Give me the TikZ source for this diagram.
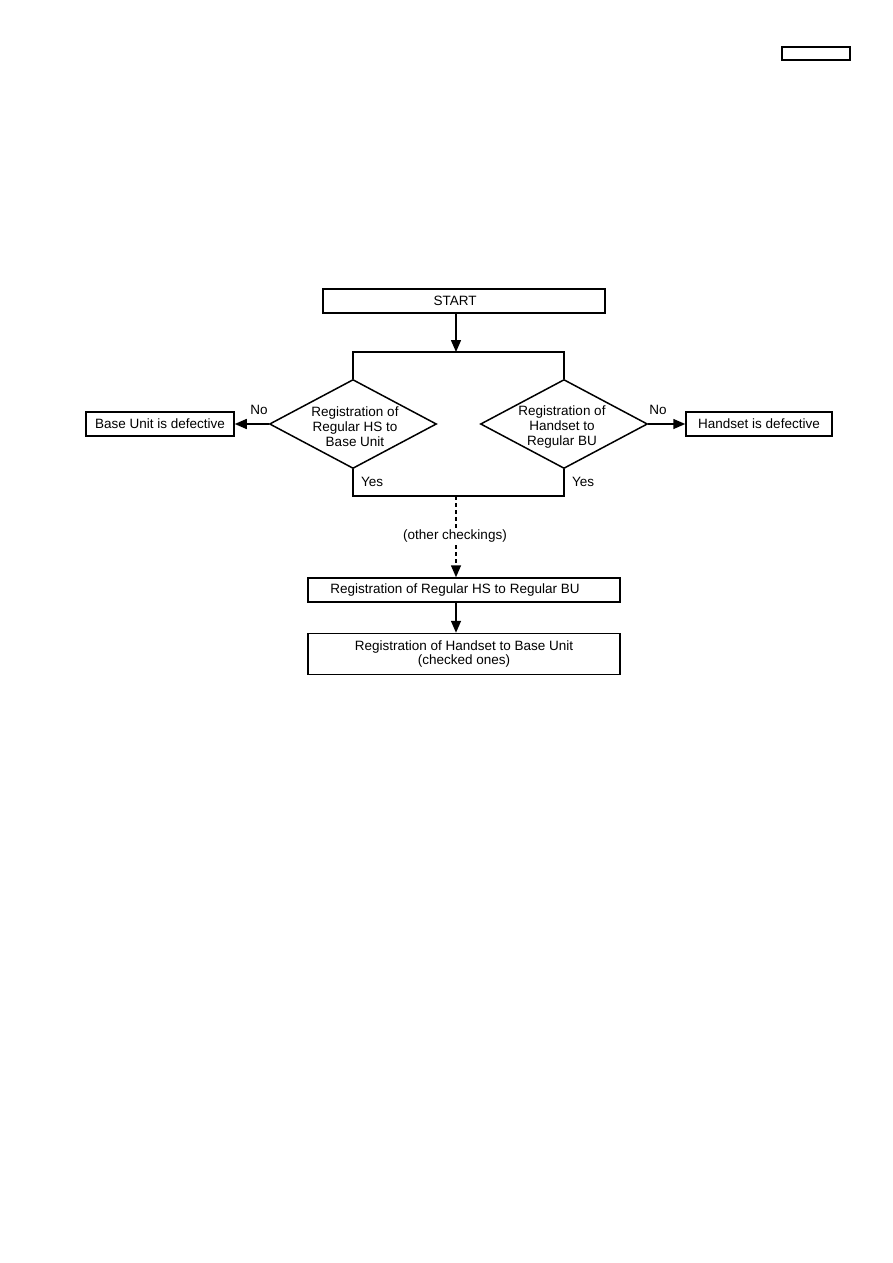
\documentclass[tikz,border=0pt]{standalone}
\usepackage{fontspec}
\setmainfont{Liberation Sans}
\usetikzlibrary{shapes.geometric, arrows.meta, positioning, calc}

\tikzset{
    caja/.style={draw, line width=1.5pt, minimum height=24pt, inner sep=0pt, align=center,
        font=\fontsize{13.5}{14.5}\selectfont},
    rombo/.style={diamond, draw, line width=1.5pt, aspect=1.88, minimum width=167pt,
        minimum height=89pt, inner sep=0pt},
    etiqueta/.style={inner sep=1pt, font=\fontsize{13.5}{15}\selectfont},
    linea/.style={line width=1.5pt},
    flecha/.style={line width=1.5pt, -{Triangle[length=12pt,width=10pt]}}
}

\begin{document}
\begin{tikzpicture}[x=1pt, y=-1pt]

    % Marco de la pagina
    \useasboundingbox (0,0) rectangle (893,1263);
    \draw[line width=1.2pt] (782,47) rectangle (850,60);

    % Inicio
    \node[caja, minimum width=282pt] (start) at (464,301) {\hspace*{-18pt}START};
    \coordinate (split) at (456,352);
    \coordinate (merge) at (456,496);

    % Las dos comprobaciones de registro
    \node[rombo] (hsbu) at (353,424) {};
    \node[rombo] (hbu) at (564,424) {};
    \node[etiqueta, align=center] (hsbutxt) at (355,427) {Registration of\\Regular HS to\\Base Unit};
    \node[etiqueta, align=center] (hbutxt) at (562,427) {Registration of\\Handset to\\Regular BU};

    % Resultados negativos
    \node[caja, minimum width=148pt] (bu) at (160,424) {Base Unit is defective};
    \node[caja, minimum width=146pt] (hs) at (759,424) {Handset is defective};

    % Pasos finales
    \node[caja, minimum width=312pt] (reg1) at (464,590) {\hspace*{-18pt}Registration of Regular HS to Regular BU};
    \node[caja, minimum width=312pt, minimum height=41pt] (reg2) at (464,654)
        {Registration of Handset to Base Unit\\(checked ones)};

    % Conexiones
    \draw[flecha] (start.south -| split) -- (split);
    \draw[linea] (hsbu.north) -- (hsbu.north |- split) -- (hbu.north |- split) -- (hbu.north);
    \draw[linea] (hsbu.south) -- (hsbu.south |- merge) -- (hbu.south |- merge) -- (hbu.south);
    \draw[flecha] (hsbu.west) -- (bu.east);
    \draw[flecha] (hbu.east) -- (hs.west);
    \draw[flecha, dash pattern=on 4pt off 3pt] (merge) -- (merge |- reg1.north);
    \draw[flecha] (reg1.south -| merge) -- (reg2.north -| merge);

    % Rotulos
    \node[etiqueta] (no1) at (259,410) {No};
    \node[etiqueta] (no2) at (658,410) {No};
    \node[etiqueta, anchor=west] (yes1) at (360,482) {Yes};
    \node[etiqueta, anchor=west] (yes2) at (571,482) {Yes};
    \node[etiqueta, fill=white] (otras) at (455,536) {(other checkings)};

\end{tikzpicture}
\end{document}
